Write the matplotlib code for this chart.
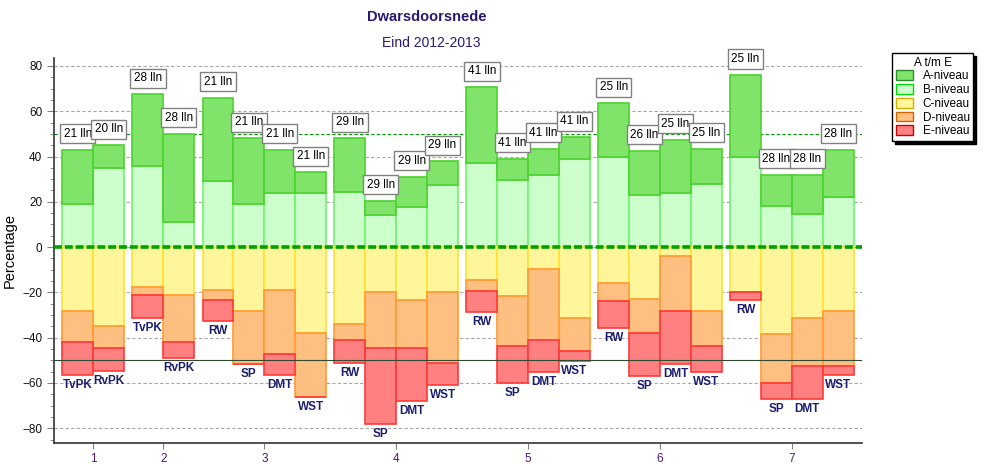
import numpy as np
import matplotlib
matplotlib.use('Agg')
import matplotlib.pyplot as plt
from matplotlib.patches import Patch

plt.rcParams['font.family'] = ['Liberation Sans', 'DejaVu Sans']

# groepen 1..7, per groep de locaties
groepen = ['1', '2', '3', '4', '5', '6', '7']
locaties = [['TvPK', 'RvPK'],
            ['TvPK', 'RvPK'],
            ['RW', 'SP', 'DMT', 'WST'],
            ['RW', 'SP', 'DMT', 'WST'],
            ['RW', 'SP', 'DMT', 'WST'],
            ['RW', 'SP', 'DMT', 'WST'],
            ['RW', 'SP', 'DMT', 'WST']]
aantal_lln = [21, 20, 28, 28, 21, 21, 21, 21, 29, 29, 29, 29,
              41, 41, 41, 41, 25, 26, 25, 25, 25, 28, 28, 28]

# percentages per niveau (A,B boven de nul, C,D,E onder de nul)
niveau_a = [24, 10, 31.5, 39, 37, 29, 19, 9, 23.5, 6.5, 13.5, 10.5,
            33.5, 9.5, 11.5, 9.5, 23.5, 19.5, 23.5, 15.5, 36, 14, 17.5, 21]
niveau_b = [19, 35, 36, 11, 29, 19, 24, 24, 24.5, 14, 17.5, 27.5,
            37, 29.5, 32, 39, 40, 23, 24, 28, 40, 18, 14.5, 22]
niveau_c = [28, 35, 17.5, 21, 19, 28, 19, 38, 34, 20, 23.5, 20,
            14.5, 21.5, 9.5, 31.5, 16, 23, 4, 28, 20, 38.5, 31.5, 28]
niveau_d = [14, 9.5, 3.5, 21, 4.5, 23.5, 28, 28, 7, 24.5, 21, 31,
            5, 22, 31.5, 14.5, 8, 15, 24, 15.5, 0, 21.5, 21, 24.5]
niveau_e = [14.5, 10, 10.5, 7, 9, 0, 9.5, 0, 10, 33.5, 23.5, 10,
            9, 16.5, 14, 4.5, 11.5, 19, 23.5, 11.5, 3.5, 7, 14.5, 4]

a = np.array(niveau_a)
b = np.array(niveau_b)
c = np.array(niveau_c)
d = np.array(niveau_d)
e = np.array(niveau_e)

# x posities: balken tegen elkaar, kleine ruimte tussen groepen
gap = 0.27
xs = []
centers = []
start = 0.0
for locs in locaties:
    n = len(locs)
    xs += [start + i + 0.5 for i in range(n)]
    centers.append(start + n / 2)
    start += n + gap
xs = np.array(xs)
namen = [l for locs in locaties for l in locs]

kleuren = {'A': ('#80E46A', '#4CD22E'),
           'B': ('#CCFFCC', '#70F470'),
           'C': ('#FFF59A', '#FFE135'),
           'D': ('#FFBF80', '#FF9A35'),
           'E': ('#FF8080', '#FF3838')}

fig = plt.figure(figsize=(9.84, 4.69), dpi=100)
ax = fig.add_axes([54 / 984, 1 - 443 / 469, (862 - 54) / 984, (443 - 58) / 469])

ax.bar(xs, b, width=1, bottom=0, color=kleuren['B'][0], edgecolor=kleuren['B'][1], linewidth=1.2, zorder=2)
ax.bar(xs, a, width=1, bottom=b, color=kleuren['A'][0], edgecolor=kleuren['A'][1], linewidth=1.2, zorder=2)
ax.bar(xs, -c, width=1, bottom=0, color=kleuren['C'][0], edgecolor=kleuren['C'][1], linewidth=1.2, zorder=2)
ax.bar(xs, -d, width=1, bottom=-c, color=kleuren['D'][0], edgecolor=kleuren['D'][1], linewidth=1.2, zorder=2)
ax.bar(xs, -e, width=1, bottom=-c - d, color=kleuren['E'][0], edgecolor=kleuren['E'][1], linewidth=1.2, zorder=2)

# referentielijnen
ax.axhline(0, color='#00A000', lw=2.6, dashes=(2.2, 0.8), zorder=3)
ax.axhline(50, color='#009900', lw=0.8, dashes=(3, 2), zorder=1)
ax.axhline(-50, color='#2F4A2F', lw=0.8, zorder=3)

# labels boven en onder de balken
for x, top, bot, n, naam in zip(xs, a + b, -(c + d + e), aantal_lln, namen):
    ax.annotate(f'{n} lln', xy=(x, top), xytext=(0, 16), textcoords='offset pixels',
                ha='center', va='center', fontsize=8.5, color='black', zorder=5,
                bbox=dict(boxstyle='square,pad=0.3', fc='white', ec='#808080', lw=1))
    ax.annotate(naam, xy=(x, bot), xytext=(0, -4), textcoords='offset pixels',
                ha='center', va='top', fontsize=8.5, color='#1E1E6E', fontweight='bold', zorder=5)

ax.set_xlim(-gap, start)
ax.set_ylim(-86.5, 83.5)
ax.set_yticks(np.arange(-80, 81, 20))
ax.set_yticks(np.arange(-85, 84, 5), minor=True)
ax.set_xticks(centers)
ax.set_xticklabels(groepen)
ax.yaxis.grid(True, color='#A8A8A8', lw=0.8, dashes=(3, 2), zorder=0)
ax.set_axisbelow(True)
ax.tick_params(axis='y', which='major', length=5, color='#808080', labelsize=8.5, labelcolor='#111111')
ax.tick_params(axis='y', which='minor', length=3, color='#808080')
ax.tick_params(axis='x', length=4, color='#808080', labelsize=8.5, labelcolor='#4B1A7A')
for s in ['top', 'right']:
    ax.spines[s].set_visible(False)
ax.spines['left'].set_color('#333333')
ax.spines['bottom'].set_color('#333333')
ax.spines['left'].set_linewidth(1.2)
ax.spines['bottom'].set_linewidth(1.2)
ax.set_ylabel('Percentage', fontsize=10.5, labelpad=4)

fig.text(427 / 984, 1 - 17 / 469, 'Dwarsdoorsnede', ha='center', va='center',
         fontsize=10.5, fontweight='bold', color='#2A1A6E')
fig.text(431 / 984, 1 - 43 / 469, 'Eind 2012-2013', ha='center', va='center',
         fontsize=10, color='#2A1A6E')

handles = [Patch(fc=kleuren['A'][0], ec='#2E8B2E', label='A-niveau'),
           Patch(fc=kleuren['B'][0], ec='#00DD00', label='B-niveau'),
           Patch(fc=kleuren['C'][0], ec='#D4B000', label='C-niveau'),
           Patch(fc=kleuren['D'][0], ec='#CC6600', label='D-niveau'),
           Patch(fc=kleuren['E'][0], ec='#CC0000', label='E-niveau')]
leg = fig.legend(handles=handles, title='A t/m E', loc='upper left',
                 bbox_to_anchor=(892 / 984, 1 - 53 / 469), fontsize=8.5, title_fontsize=8.5,
                 frameon=True, fancybox=False, edgecolor='black', framealpha=1,
                 shadow={'color': 'black', 'alpha': 1}, borderaxespad=0, borderpad=0.3,
                 labelspacing=0.15, handlelength=1.5, handleheight=0.9, handletextpad=0.8)
leg.get_frame().set_linewidth(1)

fig.savefig('out.png', dpi=100)
